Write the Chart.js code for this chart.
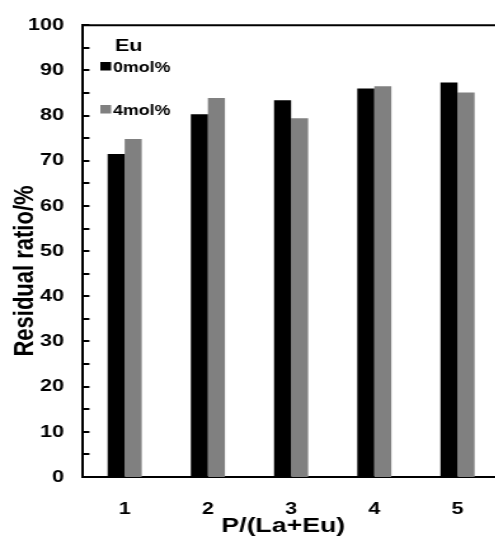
<!DOCTYPE html>
<html>
<head>
<meta charset="utf-8">
<script src="https://cdn.jsdelivr.net/npm/chart.js@4/dist/chart.umd.min.js"></script>
<style>
  html, body { margin: 0; padding: 0; background: #fff; overflow: hidden; }
  #chart { display: block; }
</style>
</head>
<body>
<!-- the reference is stretched sideways, so the canvas is drawn narrow and scaled by inline css -->
<canvas id="chart" width="400" height="540" style="width:508px;height:540px"></canvas>
<script>
const categories = ['1', '2', '3', '4', '5'];
const eu0 = [71.5, 80.3, 83.4, 86.0, 87.3];
const eu4 = [74.8, 83.9, 79.4, 86.5, 85.1];
const seriesLabels = ['0mol%', '4mol%'];
const legendTitle = 'Eu';
const xTitle = 'P/(La+Eu)';
const yTitle = 'Residual ratio/%';

const FONT = "'Liberation Sans', Arial, sans-serif";

// inward y ticks, top frame line, custom legend and axis titles
const decorations = {
    id: 'decorations',
    afterDraw(chart) {
        const ctx = chart.ctx;
        const area = chart.chartArea;
        const y = chart.scales.y;
        ctx.save();
        ctx.strokeStyle = '#000';
        ctx.lineWidth = 2;
        ctx.beginPath();
        ctx.moveTo(area.left - 1, area.top);
        ctx.lineTo(area.right + 5, area.top);
        ctx.stroke();

        for (let t of y.ticks) {
            if (t.value === 0) continue;
            let py = Math.round(y.getPixelForValue(t.value));
            ctx.beginPath();
            ctx.moveTo(area.left, py);
            ctx.lineTo(area.left + 5, py);
            ctx.stroke();
        }

        ctx.fillStyle = '#000';
        ctx.textBaseline = 'alphabetic';
        ctx.textAlign = 'left';
        ctx.font = 'bold 17px ' + FONT;
        ctx.fillText(legendTitle, 90.5, 51);

        const rows = [62, 105];
        ctx.font = 'bold 14px ' + FONT;
        chart.data.datasets.forEach((ds, i) => {
            ctx.fillStyle = ds.backgroundColor;
            ctx.fillRect(79, rows[i], 8.5, 8.5);
            ctx.fillStyle = '#000';
            ctx.fillText(ds.label, 89, rows[i] + 10);
        });

        ctx.font = 'bold 21px ' + FONT;
        ctx.textAlign = 'center';
        ctx.fillText(xTitle, 223, 532);

        ctx.save();
        ctx.translate(25.5, 271);
        ctx.rotate(-Math.PI / 2);
        ctx.font = 'bold 22px ' + FONT;
        ctx.fillText(yTitle, 0, 0);
        ctx.restore();
        ctx.restore();
    }
};

new Chart(document.getElementById('chart'), {
    type: 'bar',
    data: {
        labels: categories,
        datasets: [
            { label: seriesLabels[0], data: eu0, backgroundColor: '#000000' },
            { label: seriesLabels[1], data: eu4, backgroundColor: '#808080' }
        ]
    },
    options: {
        responsive: false,
        animation: false,
        layout: { padding: { left: 0, right: 7, top: 19, bottom: 0 } },
        datasets: { bar: { categoryPercentage: 0.41, barPercentage: 1 } },
        plugins: { legend: { display: false }, tooltip: { enabled: false } },
        scales: {
            x: {
                grid: { display: false, drawTicks: false },
                border: { display: true, color: '#000', width: 2 },
                ticks: { color: '#000', font: { family: FONT, size: 17, weight: 'bold' }, padding: 22 },
                afterFit(scale) { scale.height = 63; }
            },
            y: {
                min: 0,
                max: 100,
                grid: { display: false, drawTicks: false },
                border: { display: true, color: '#000', width: 2 },
                ticks: {
                    stepSize: 5,
                    autoSkip: false,
                    color: '#000',
                    padding: 15,
                    font: { family: FONT, size: 17, weight: 'bold' },
                    callback: v => (v % 10 === 0 ? v : '')
                },
                afterFit(scale) { scale.width = 65.4; }
            }
        }
    },
    plugins: [decorations]
});
</script>
</body>
</html>
